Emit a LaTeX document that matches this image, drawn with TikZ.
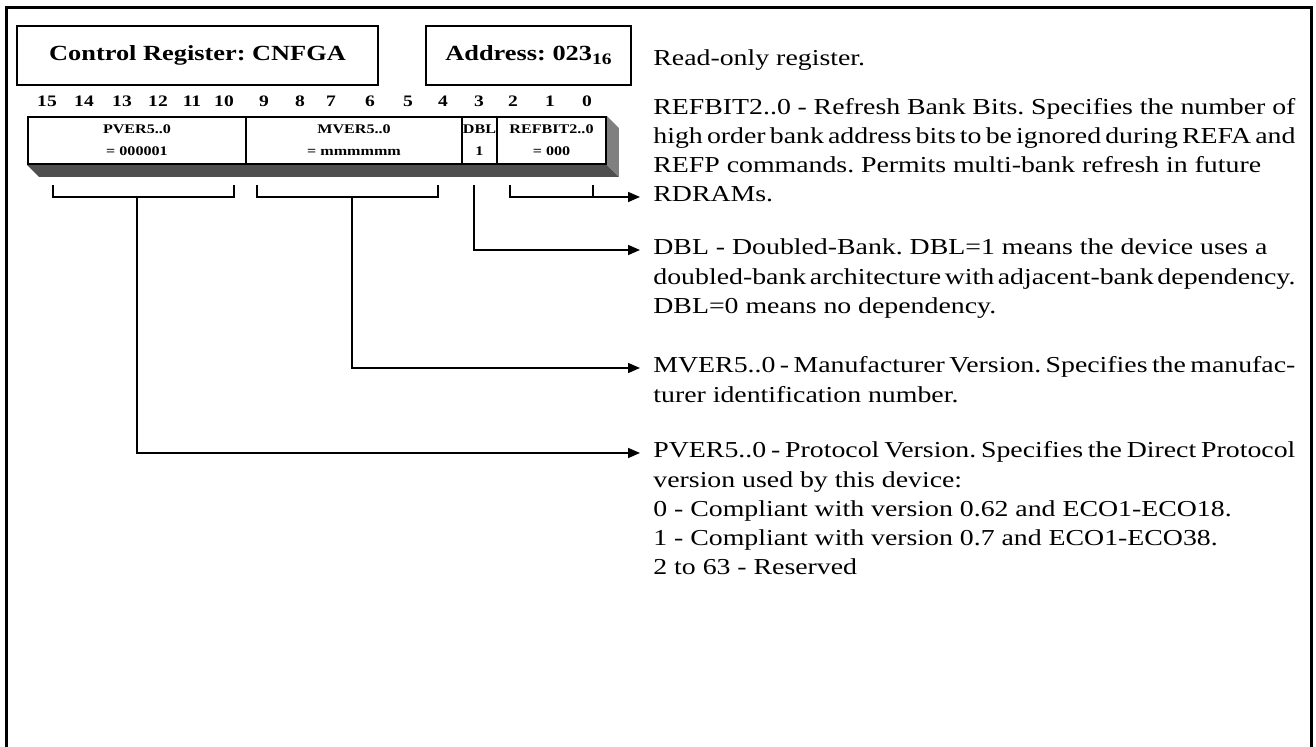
\documentclass[tikz,border=0pt]{standalone}
\usepackage{fontspec}
\setmainfont{Liberation Serif}[FakeStretch=1.22]
\usetikzlibrary{arrows.meta}
\pgfdeclarelayer{background}
\pgfsetlayers{background,main}
\frenchspacing
\newcommand{\desctext}[2][t]{\parbox[#1]{321pt}{\spaceskip=3.45pt plus 2pt minus 2.3pt\relax #2}}

\begin{document}
\begin{tikzpicture}[x=0.5pt, y=-0.5pt,
		title/.style={draw, line width=0.9pt, inner sep=0pt, minimum height=29.5pt, font=\fontsize{10.8}{13}\selectfont\bfseries},
		bitno/.style={anchor=base, inner sep=0pt, font=\fontsize{8}{9}\selectfont\bfseries},
		field/.style={draw, line width=0.9pt, inner sep=0pt, minimum height=23.5pt, align=center, font=\fontsize{6.6}{11}\selectfont\bfseries},
		desc/.style={anchor=base west, inner sep=0pt, font=\fontsize{11.4}{14.6}\selectfont},
		brk/.style={line width=0.8pt},
		arr/.style={brk, -{Triangle[length=6pt,width=5pt]}}]

			\useasboundingbox (0,0) rectangle (1316,747);
			\draw[line width=1.5pt] (6,752) -- (6,8) -- (1311,8) -- (1311,752);

			\node[title, minimum width=180.5pt] (ctrl) at (197.5,55.5) {Control Register: CNFGA};
			\node[title, minimum width=102.5pt] (addr) at (528.5,55.5) {Address: 023\raisebox{-2pt}{\fontsize{8}{9}\selectfont 16}};

			\foreach \b/\x in {15/47,14/84,13/122,12/158,11/192,10/224,9/264,8/300,7/331,6/370,5/408,4/443,3/479,2/513,1/550,0/587} {
				\node[bitno] (b\b) at (\x,107) {\b};
			}

			\node[field, minimum width=109pt] (pver) at (137,140.5) {PVER5..0\\= 000001};
			\node[field, minimum width=108pt] (mver) at (354,140.5) {MVER5..0\\= mmmmmm};
			\node[field, minimum width=17.5pt] (dbl) at (479.5,140.5) {DBL\\1};
			\node[field, minimum width=54.5pt] (refbit) at (551.5,140.5) {REFBIT2..0\\= 000};

			\begin{pgfonlayer}{background}
				\fill[black!69] (pver.south west) -- ++(12,12) -- ([shift={(12,12)}]refbit.south east) -- (refbit.south east) -- cycle;
				\fill[black!50] (refbit.north east) -- ([shift={(12,12)}]refbit.north east) -- ([shift={(12,12)}]refbit.south east) -- (refbit.south east) -- cycle;
			\end{pgfonlayer}

			\node[desc] (ro-t) at (653,66) {Read-only register.};
			\node[desc] (ref-t) at (653,202) {\desctext[b]{REFBIT2..0 - Refresh Bank Bits. Specifies the number of\linebreak high order bank address bits to be ignored during REFA and\linebreak REFP commands. Permits multi-bank refresh in future\\RDRAMs.}};
			\node[desc] (dbl-t) at (653,255) {\desctext{DBL - Doubled-Bank. DBL=1 means the device uses a\\doubled-bank architecture with adjacent-bank dependency.\linebreak DBL=0 means no dependency.}};
			\node[desc] (mver-t) at (653,373) {\desctext{MVER5..0 - Manufacturer Version. Specifies the manufac-\linebreak turer identification number.}};
			\node[desc] (pver-t) at (653,458) {\desctext{PVER5..0 - Protocol Version. Specifies the Direct Protocol\linebreak version used by this device:\\0 - Compliant with version 0.62 and ECO1-ECO18.\\1 - Compliant with version 0.7 and ECO1-ECO38.\\2 to 63 - Reserved}};

			\coordinate (pver-l) at (53,185);
			\coordinate (pver-r) at (234,185);
			\coordinate (pver-s) at (137,197);
			\coordinate (mver-l) at (257,185);
			\coordinate (mver-r) at (438,185);
			\coordinate (mver-s) at (352,197);
			\coordinate (dbl-s) at (474,185);
			\coordinate (ref-l) at (510,185);
			\coordinate (ref-r) at (593,185);

			\draw[brk] (pver-l) |- (pver-s) -| (pver-r);
			\draw[brk] (mver-l) |- (mver-s) -| (mver-r);
			\draw[brk] (ref-r) -- ++(0,12);

			\draw[arr] (ref-l) |- ([shift={(-13,-5)}]ref-t.base west);
			\draw[arr] (dbl-s) |- ([shift={(-13,-5)}]dbl-t.base west);
			\draw[arr] (mver-s) |- ([shift={(-13,-5)}]mver-t.base west);
			\draw[arr] (pver-s) |- ([shift={(-13,-5)}]pver-t.base west);
		\end{tikzpicture}
\end{document}
